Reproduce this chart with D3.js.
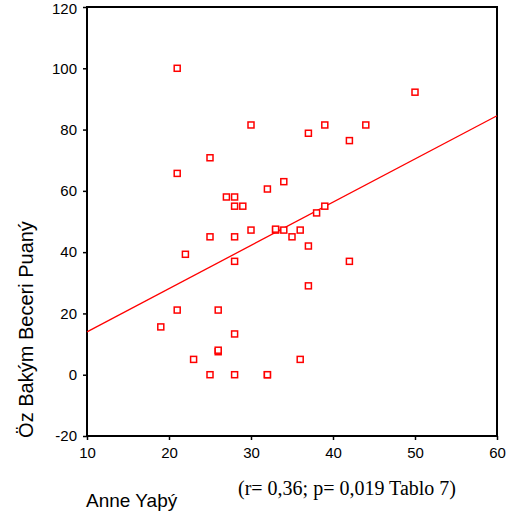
<!DOCTYPE html>
<html>
<head>
<meta charset="utf-8">
<script src="https://cdn.jsdelivr.net/npm/d3@7"></script>
<style>
  html, body { margin: 0; padding: 0; background: #fff; }
  svg { display: block; }
</style>
</head>
<body>
<script>
// ---- Data ----
const motherAge = [21, 30, 25, 21, 27, 28, 28, 29, 30, 25, 28, 22, 50, 39, 44, 37, 42, 34, 32, 39, 38, 33, 33, 34, 36, 35, 37, 42, 28, 21, 26, 19, 28, 26, 26, 23, 25, 28, 32, 32, 37, 36];
const selfCareScore = [100, 81.5, 70.8, 65.7, 58, 58, 55, 55, 47.2, 45, 45, 39.3, 92.2, 81.5, 81.5, 78.8, 76.4, 63, 60.6, 55, 52.8, 47.2, 47.5, 47.2, 47.2, 45, 42, 37, 37, 21.1, 21.1, 15.6, 13.3, 7.5, 8, 5, 0, 0, 0, 0, 29, 5];
const fitX = [10, 60];
const fitY = [14.0, 84.5];
const xTicks = [10, 20, 30, 40, 50, 60];
const yTicks = [-20, 0, 20, 40, 60, 80, 100, 120];
const xTitle = "Anne Yaþý";
const yTitle = "Öz Bakým Beceri Puaný";
const note = "(r= 0,36; p= 0,019 Tablo 7)";

(function () {
const W = 509, H = 520;
const pL = 87, pR = 497, pT = 7, pB = 436;

const svg = d3.select("body").append("svg").attr("width", W).attr("height", H);

const x = d3.scaleLinear().domain([10, 60]).range([pL, pR]);
const y = d3.scaleLinear().domain([-20, 120]).range([pB, pT]);

const sans = "'Liberation Sans', Arial, Helvetica, sans-serif";
const fmt = v => String(v);

// frame
svg.append("rect")
  .attr("x", pL).attr("y", pT)
  .attr("width", pR - pL).attr("height", pB - pT)
  .attr("fill", "none").attr("stroke", "#000").attr("stroke-width", 2);

// axes
const yAxis = svg.append("g").attr("transform", `translate(${pL},0)`)
  .call(d3.axisLeft(y).tickValues(yTicks).tickFormat(fmt).tickSize(4).tickSizeOuter(0).tickPadding(6));
const xAxis = svg.append("g").attr("transform", `translate(0,${pB})`)
  .call(d3.axisBottom(x).tickValues(xTicks).tickFormat(fmt).tickSize(4).tickSizeOuter(0).tickPadding(7));
[xAxis, yAxis].forEach(g => {
  g.select(".domain").remove();
  g.selectAll(".tick line").attr("stroke", "#000").attr("stroke-width", 1.5);
  g.selectAll(".tick text").attr("font-family", sans).attr("font-size", 15).attr("fill", "#000");
});
// keep the top label inside the page
yAxis.selectAll(".tick text").filter(d => d === yTicks[yTicks.length - 1]).attr("dy", "0.45em");

// regression line
svg.append("line")
  .attr("x1", x(fitX[0])).attr("y1", y(fitY[0]))
  .attr("x2", x(fitX[1])).attr("y2", y(fitY[1]))
  .attr("stroke", "#ff0000").attr("stroke-width", 1.3);

// points
const s = 6;
svg.append("g").selectAll("rect")
  .data(motherAge.map((v, i) => [v, selfCareScore[i]]))
  .join("rect")
  .attr("x", d => x(d[0]) - s / 2)
  .attr("y", d => y(d[1]) - s / 2)
  .attr("width", s).attr("height", s)
  .attr("fill", "#fff").attr("stroke", "#ff0000").attr("stroke-width", 1.5);

// titles
svg.append("text")
  .attr("transform", `translate(33,${(222 + 437) / 2}) rotate(-90)`)
  .attr("text-anchor", "middle")
  .attr("font-family", sans).attr("font-size", 20)
  .text(yTitle);

svg.append("text")
  .attr("x", 86).attr("y", 507)
  .attr("font-family", sans).attr("font-size", 19)
  .text(xTitle);

svg.append("text")
  .attr("x", 238).attr("y", 495)
  .attr("font-family", "'Liberation Serif', 'Times New Roman', serif").attr("font-size", 20)
  .text(note);
})();
</script>
</body>
</html>
